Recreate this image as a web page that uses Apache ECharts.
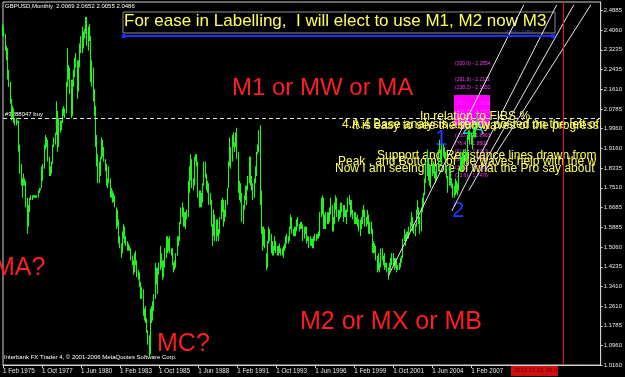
<!DOCTYPE html>
<html><head><meta charset="utf-8">
<script src="https://cdn.jsdelivr.net/npm/echarts@6/dist/echarts.min.js"></script>
<style>html,body{margin:0;padding:0;background:#000;}#c{width:625px;height:377px;}</style>
</head><body><div id="c"></div>
<script>
// ---- data (GBPUSD monthly, Feb 1975 .. Jul 2007) ----
const startYear = 1975, startMonth = 1; // 0-based month: Feb
const monthCount = 491;                 // categories shown on the time axis
const highs = [
 2.43,2.42,2.39,2.34,2.33,2.24,2.19,2.12,2.09,2.08,2.04,
 2.04,2.03,2.03,1.93,1.85,1.79,1.81,1.79,1.78,1.71,1.68,1.71,
 1.72,1.72,1.72,1.72,1.72,1.72,1.74,1.75,1.75,1.84,1.85,1.93,
 1.97,1.96,1.95,1.88,1.84,1.86,1.93,1.96,1.98,2.11,2.07,2.04,
 2.03,2.03,2.08,2.09,2.08,2.19,2.33,2.26,2.25,2.20,2.20,2.24,
 2.29,2.31,2.28,2.28,2.35,2.38,2.42,2.40,2.41,2.46,2.46,2.42,
 2.43,2.38,2.28,2.25,2.16,2.09,1.97,1.89,1.86,1.88,1.96,1.95,
 1.92,1.87,1.85,1.79,1.84,1.79,1.75,1.74,1.73,1.72,1.67,1.66,
 1.62,1.55,1.52,1.57,1.60,1.59,1.55,1.53,1.52,1.51,1.50,1.47,
 1.45,1.48,1.49,1.45,1.41,1.40,1.36,1.34,1.33,1.25,1.26,1.21,
 1.16,1.14,1.25,1.26,1.28,1.31,1.44,1.42,1.42,1.44,1.51,1.48,
 1.45,1.45,1.50,1.55,1.55,1.54,1.55,1.50,1.50,1.44,1.45,1.48,
 1.55,1.55,1.61,1.67,1.69,1.67,1.65,1.65,1.66,1.78,1.84,1.89,
 1.87,1.79,1.88,1.89,1.89,1.86,1.74,1.74,1.73,1.77,1.86,1.86,
 1.81,1.78,1.77,1.73,1.70,1.60,1.66,1.64,1.62,1.62,1.58,1.63,
 1.70,1.71,1.70,1.66,1.70,1.75,1.86,1.96,1.92,1.97,1.98,1.94,
 1.98,2.00,1.90,1.78,1.77,1.73,1.68,1.72,1.76,1.76,1.80,1.88,
 1.88,1.80,1.77,1.79,1.84,1.90,1.93,1.99,2.01,1.74,1.59,1.59,
 1.58,1.48,1.53,1.59,1.58,1.56,1.53,1.51,1.55,1.53,1.51,1.51,
 1.52,1.50,1.50,1.51,1.52,1.55,1.56,1.55,1.59,1.64,1.63,1.58,
 1.59,1.59,1.62,1.63,1.60,1.61,1.61,1.60,1.59,1.59,1.59,1.55,
 1.55,1.55,1.54,1.54,1.55,1.56,1.56,1.56,1.57,1.65,1.71,1.72,
 1.71,1.64,1.65,1.65,1.65,1.67,1.71,1.68,1.63,1.69,1.72,1.71,
 1.66,1.66,1.69,1.69,1.68,1.68,1.66,1.66,1.71,1.72,1.70,1.70,
 1.66,1.65,1.65,1.63,1.64,1.62,1.62,1.63,1.66,1.68,1.66,1.63,
 1.66,1.64,1.61,1.61,1.58,1.53,1.52,1.51,1.47,1.48,1.44,1.50,
 1.50,1.47,1.48,1.44,1.44,1.42,1.44,1.46,1.48,1.48,1.46,1.46,
 1.45,1.43,1.44,1.46,1.47,1.54,1.58,1.56,1.57,1.57,1.59,1.61,
 1.65,1.63,1.60,1.60,1.66,1.70,1.67,1.63,1.67,1.71,1.73,1.79,
 1.86,1.91,1.87,1.85,1.84,1.85,1.86,1.85,1.82,1.85,1.91,1.95,
 1.91,1.93,1.93,1.92,1.90,1.84,1.80,1.84,1.84,1.79,1.77,1.76,
 1.79,1.78,1.77,1.83,1.90,1.88,1.89,1.91,1.91,1.90,1.97,1.99,
 1.99,1.98,1.97,2.01,1.99,2.01,2.0652
];
const lows = [
 2.38,2.38,2.32,2.28,2.20,2.17,2.10,2.03,2.04,2.02,2.01,
 2.01,2.02,1.90,1.81,1.76,1.71,1.76,1.76,1.67,1.56,1.59,1.65,
 1.70,1.70,1.71,1.71,1.71,1.71,1.71,1.73,1.74,1.75,1.78,1.83,
 1.91,1.92,1.86,1.80,1.80,1.81,1.85,1.92,1.93,1.97,1.90,1.92,
 1.98,1.99,2.02,2.05,2.04,2.06,2.17,2.20,2.14,2.04,2.05,2.17,
 2.21,2.25,2.12,2.15,2.25,2.31,2.31,2.33,2.37,2.39,2.34,2.32,
 2.36,2.19,2.17,2.11,2.05,1.92,1.84,1.77,1.77,1.80,1.87,1.88,
 1.86,1.82,1.76,1.75,1.77,1.71,1.71,1.69,1.69,1.67,1.58,1.59,
 1.52,1.50,1.46,1.48,1.54,1.52,1.51,1.49,1.49,1.49,1.45,1.43,
 1.39,1.40,1.43,1.38,1.37,1.34,1.29,1.29,1.22,1.20,1.19,1.15,
 1.10,1.045,1.06,1.19,1.20,1.24,1.29,1.35,1.31,1.39,1.41,1.42,
 1.37,1.38,1.42,1.46,1.48,1.49,1.48,1.47,1.43,1.40,1.41,1.42,
 1.47,1.51,1.53,1.60,1.63,1.59,1.59,1.58,1.62,1.63,1.73,1.78,
 1.75,1.74,1.76,1.86,1.84,1.71,1.67,1.67,1.67,1.69,1.76,1.79,
 1.74,1.73,1.68,1.68,1.59,1.51,1.55,1.53,1.53,1.55,1.53,1.56,
 1.62,1.65,1.59,1.61,1.63,1.68,1.75,1.84,1.83,1.86,1.92,1.90,
 1.92,1.87,1.73,1.70,1.69,1.61,1.60,1.66,1.70,1.68,1.74,1.77,
 1.76,1.74,1.70,1.71,1.77,1.80,1.89,1.90,1.68,1.56,1.49,1.51,
 1.50,1.41,1.42,1.52,1.53,1.48,1.47,1.47,1.49,1.48,1.47,1.47,
 1.48,1.47,1.47,1.46,1.49,1.50,1.52,1.52,1.53,1.58,1.56,1.55,
 1.55,1.55,1.57,1.59,1.57,1.58,1.58,1.53,1.54,1.56,1.52,1.53,
 1.50,1.51,1.51,1.50,1.50,1.53,1.53,1.54,1.54,1.55,1.63,1.64,
 1.58,1.58,1.58,1.60,1.60,1.61,1.64,1.57,1.57,1.60,1.66,1.63,
 1.61,1.62,1.63,1.65,1.61,1.63,1.63,1.60,1.65,1.68,1.63,1.64,
 1.62,1.60,1.60,1.60,1.59,1.57,1.55,1.58,1.60,1.63,1.59,1.59,
 1.60,1.56,1.56,1.56,1.48,1.48,1.48,1.45,1.40,1.41,1.40,1.42,
 1.45,1.43,1.41,1.42,1.40,1.37,1.40,1.41,1.43,1.43,1.41,1.42,
 1.40,1.41,1.41,1.42,1.44,1.46,1.53,1.51,1.53,1.54,1.54,1.57,
 1.59,1.57,1.56,1.55,1.59,1.64,1.60,1.56,1.57,1.65,1.67,1.72,
 1.77,1.80,1.78,1.76,1.75,1.80,1.81,1.79,1.77,1.78,1.82,1.90,
 1.86,1.85,1.88,1.87,1.81,1.79,1.73,1.76,1.76,1.75,1.71,1.71,
 1.72,1.73,1.72,1.74,1.82,1.82,1.82,1.85,1.86,1.84,1.87,1.95,
 1.93,1.93,1.91,1.96,1.96,1.96,2.0055
];
const xTickLabels = ['1 Feb 1975','1 Oct 1977','1 Jun 1980','1 Feb 1983','1 Oct 1985','1 Jun 1988',
  '1 Feb 1991','1 Oct 1993','1 Jun 1996','1 Feb 1999','1 Oct 2001','1 Jun 2004','1 Feb 2007'];
const xTickStep = 32;
const yTicks = [2.4885,2.4060,2.3235,2.2435,2.1610,2.0785,1.9960,1.9160,1.8335,1.7510,
  1.6685,1.5885,1.5060,1.4235,1.3410,1.2610,1.1785,1.0960,1.0160];
const yMin = 1.0160, yMax = 2.5217;
const bidPrice = 2.0486, orderPrice = 2.0450, fiboPrice = 2.3800;
const vLineIndex = 459;
// channel lines as [startIndex, startPrice, endIndex, endPrice]
const channelLines = [
  [316, 1.386, 427, 2.510],
  [368, 1.655, 454, 2.510],
  [382, 1.740, 468, 2.510],
  [395, 1.820, 482, 2.510]
];

// ---- build ----
const cats = [];
for (let i = 0; i < monthCount; i++) {
  const m = startMonth + i;
  cats.push((startYear + Math.floor(m / 12)) + '.' + String(m % 12 + 1).padStart(2, '0'));
}
const ohlc = highs.map((h, i) => [lows[i], h, lows[i], h]);
const green = '#24f024';
const chart = echarts.init(document.getElementById('c'), null, {renderer: 'canvas'});
const ff = 'Liberation Sans, Arial, sans-serif';
const markLines = channelLines.map(l => [
  {coord: [l[0], l[1]], lineStyle: {color: '#e8e8e8', width: 1, type: 'solid'}},
  {coord: [l[2], l[3]]}
]);
markLines.push([
  {coord: [99, fiboPrice], lineStyle: {color: '#1a2cff', width: 2, type: 'solid'}, symbol: 'rect', symbolSize: 4},
  {coord: [451, fiboPrice], symbol: 'rect', symbolSize: 4}
]);
markLines.push({yAxis: orderPrice, lineStyle: {color: '#e0e0e0', width: 1, type: [4, 3]}, label: {show: false}});
markLines.push({xAxis: vLineIndex, lineStyle: {color: '#ff1010', width: 1, type: 'solid'}, label: {show: false}});
markLines.push({yAxis: bidPrice, lineStyle: {opacity: 0}, label: {show: true, position: 'end', formatter: '2.0486',
  color: '#000', backgroundColor: '#fff', fontSize: 6, fontFamily: ff, padding: [0, 1], distance: 2}});

const plotRight = 603;
function clipText(x, y, text, size) {
  return {type: 'text', left: x, top: y, style: {text: text, fill: '#ffff55', font: size + 'px ' + ff,
    width: plotRight - x, overflow: 'truncate', ellipsis: ''}};
}

chart.setOption({
  backgroundColor: '#000',
  animation: false,
  grid: {left: 3, right: 22, top: 2, bottom: 12, show: true, borderColor: '#cfcfcf', borderWidth: 1, backgroundColor: '#000'},
  xAxis: {
    type: 'category', data: cats, boundaryGap: false,
    axisLine: {lineStyle: {color: '#cfcfcf'}},
    axisTick: {show: true, length: 3, lineStyle: {color: '#cfcfcf'},
      interval: (i) => i % xTickStep === 0 && i / xTickStep < xTickLabels.length},
    axisLabel: {color: '#e6e6e6', fontSize: 6.3, fontFamily: ff, margin: 3, align: 'left',
      interval: (i) => i % xTickStep === 0 && i / xTickStep < xTickLabels.length,
      formatter: (v, i) => xTickLabels[i / xTickStep] || ''},
    splitLine: {show: false}
  },
  yAxis: {
    type: 'value', position: 'right', min: yMin, max: yMax, scale: true,
    axisLine: {show: true, lineStyle: {color: '#cfcfcf'}},
    axisTick: {show: true, length: 2, lineStyle: {color: '#cfcfcf'}, customValues: yTicks},
    axisLabel: {color: '#e6e6e6', fontSize: 6, fontFamily: ff, margin: 3, customValues: yTicks,
      formatter: (v) => v.toFixed(4)},
    splitLine: {show: false}
  },
  series: [{
    type: 'candlestick', data: ohlc, barWidth: 1,
    itemStyle: {color: green, color0: green, borderColor: green, borderColor0: green, borderWidth: 1.1},
    markLine: {silent: true, symbol: 'none', animation: false, data: markLines}
  }],
  graphic: [
    {type: 'text', left: 5, top: 3, style: {text: 'GBPUSD,Monthly  2.0069 2.0652 2.0055 2.0486', fill: '#fff', font: '6px ' + ff}},
    {type: 'rect', shape: {x: 123, y: 12, width: 432, height: 21}, style: {fill: 'none', stroke: '#8a8a8a', lineWidth: 1}},
    {type: 'text', left: 124, top: 13, style: {text: 'For ease in Labelling,  I will elect to use M1, M2 now M3', fill: '#ffff5a', font: '17px ' + ff}},
    {type: 'text', left: 505, top: 30, style: {text: '(419.0) - 2.3864', fill: '#4050ff', font: '4px ' + ff}},
    {type: 'text', left: 5, top: 111, style: {text: '#3288047 buy', fill: '#fff', font: '6px ' + ff}},
    {type: 'text', left: 232, top: 76, style: {text: 'M1 or MW or MA', fill: '#ff1e1e', font: '24px ' + ff}},
    {type: 'text', left: -6, top: 256, style: {text: 'MA?', fill: '#ff1e1e', font: '25px ' + ff}},
    {type: 'text', left: 157, top: 332, style: {text: 'MC?', fill: '#ff1e1e', font: '25px ' + ff}},
    {type: 'text', left: 300, top: 310, style: {text: 'M2 or MX or MB', fill: '#ff1e1e', font: '25px ' + ff}},
    {type: 'rect', shape: {x: 454, y: 95, width: 36, height: 30}, style: {fill: '#ff00ff'}},
    {type: 'text', left: 455, top: 60, style: {text: '(300.0) - 2.2854\n\n(261.8) - 2.2111\n(238.2) - 2.1652\n\n(200.0) - 2.0908\n(161.8) - 2.0165\n(138.2) - 1.9706\n(123.6) - 1.9422\n(100.0) - 1.8963\n(76.4) - 1.8503\n(61.8) - 1.8219\n(50.0) - 1.7990\n(38.2) - 1.7760\n(23.6) - 1.7476', fill: '#ff33ff', font: '5px ' + ff, lineHeight: 8}},
    {type: 'text', left: 435, top: 128, style: {text: '1', fill: '#1e3cff', font: '22px ' + ff}},
    {type: 'text', left: 452, top: 200, style: {text: '2', fill: '#1e3cff', font: '22px ' + ff}},
    {type: 'text', left: 462, top: 120, style: {text: '2A', fill: '#33cccc', font: '18px ' + ff}},
    clipText(420, 111, 'In relation to FIBS % ,', 12),
    clipText(342, 119, '4.A.4 Base analysis already posted on the left of Wave', 12),
    clipText(352, 120, 'It is easy to see the sub waves of the progress of Wave', 12),
    clipText(377, 150, 'Support and Resistance lines drawn from', 12),
    clipText(338, 156, 'Peak , and Bottoms of the waves help with the way', 12),
    clipText(335, 163, 'Now I am seeing more of what the Pro say about SR Lv', 12),
    {type: 'text', left: 4, top: 354, style: {text: 'Interbank FX Trader 4, \u00a9 2001-2006 MetaQuotes Software Corp.', fill: '#fff', font: '6px ' + ff}},
    {type: 'rect', shape: {x: 511, y: 365, width: 47, height: 11}, style: {fill: '#d01010'}},
    {type: 'text', left: 514, top: 367, style: {text: '2013.01.01 00:00', fill: '#700000', font: '6px ' + ff}}
  ]
});
</script></body></html>
